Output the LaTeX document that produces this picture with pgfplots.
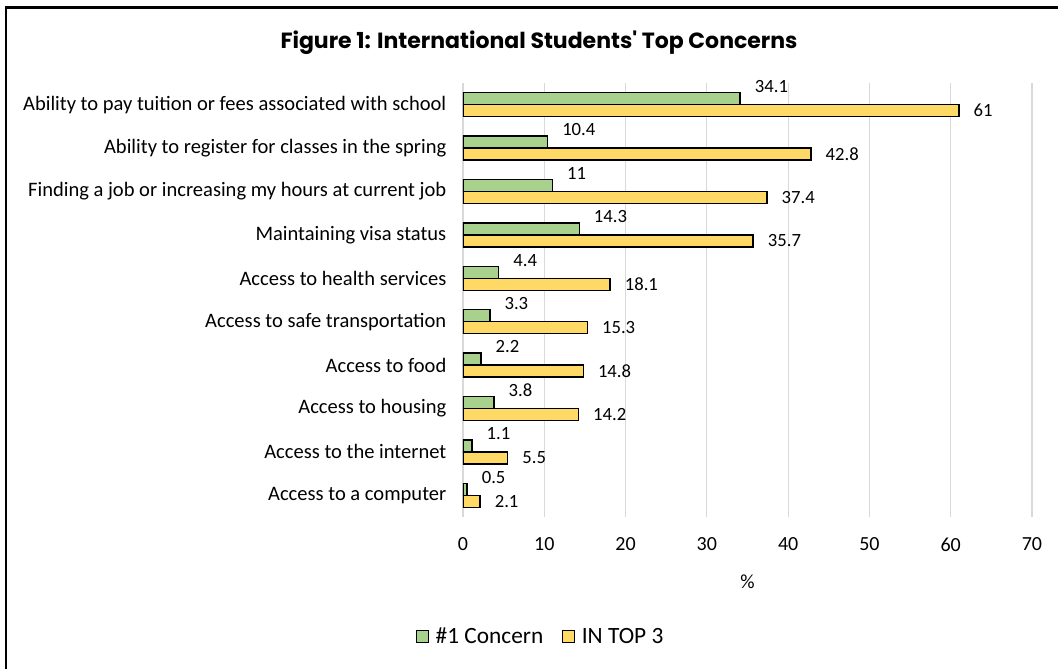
\documentclass[border=0pt]{standalone}
\usepackage{fontspec}
\setmainfont{Carlito}
\newfontfamily\titlefont{Poppins}
\usepackage{pgfplots}
\pgfplotsset{compat=1.18}
\definecolor{gfill}{HTML}{A9D18E}
\definecolor{yfill}{HTML}{FFD966}
\definecolor{gridc}{HTML}{D9D9D9}
\begin{document}
\begin{tikzpicture}[x=0.75pt,y=0.75pt]
\path[use as bounding box] (0,0) rectangle (1058,669);
\draw[line width=1.8pt,black] (6,0) -- (6,661.5) -- (1058,661.5);
\node[font=\titlefont\bfseries\fontsize{16.5}{19}\selectfont] at (539,626) {Figure 1: International Students' Top Concerns};
\begin{axis}[
  at={(347.25pt,114pt)}, anchor=south west,
  scale only axis, width=426.75pt, height=325.5pt,
  xmin=0, xmax=70, ymin=-0.5, ymax=9.5,
  xtick={0,10,...,70},
  ytick={0,...,9},
  yticklabels={Access to a computer,Access to the internet,Access to housing,Access to food,Access to safe transportation,Access to health services,Maintaining visa status,Finding a job or increasing my hours at current job,Ability to register for classes in the spring,Ability to pay tuition or fees associated with school},
  axis line style={draw=none},
  major tick length=0pt,
  xmajorgrids, grid style={gridc, line width=0.9pt},
  /pgf/number format/assume math mode=true,
  tick label style={font=\fontsize{15}{18}\selectfont, black},
  yticklabel style={font=\fontsize{15.4}{18}\selectfont, xshift=-9pt},
  xticklabel style={yshift=-12pt},
  xlabel={\%}, xlabel style={font=\fontsize{15}{18}\selectfont, yshift=-11pt},
  xbar, bar width=0.276,
  legend columns=2,
  legend style={at={(0.137,-0.276)}, anchor=center, draw=none, font=\fontsize{17.5}{20}\selectfont,
    /tikz/every odd column/.append style={column sep=3pt},
    /tikz/every even column/.append style={column sep=12pt}},
  legend image code/.code={\draw[#1, line width=0.9pt] (0pt,-4.5pt) rectangle (9pt,4.5pt);},
  nodes near coords,
  every node near coord/.append style={font=\fontsize{14}{16}\selectfont, black, inner sep=0pt},
]
\addplot[fill=gfill, draw=black, line width=1.1pt, bar shift=0.138,
  every node near coord/.append style={anchor=south west, xshift=10.5pt, yshift=4pt}]
  coordinates {(0.5,0) (1.1,1) (3.8,2) (2.2,3) (3.3,4) (4.4,5) (14.3,6) (11,7) (10.4,8) (34.1,9)};
\addplot[fill=yfill, draw=black, line width=1.1pt, bar shift=-0.138,
  every node near coord/.append style={anchor=west, xshift=10.5pt}]
  coordinates {(2.1,0) (5.5,1) (14.2,2) (14.8,3) (15.3,4) (18.1,5) (35.7,6) (37.4,7) (42.8,8) (61,9)};
\legend{\#1 Concern, IN TOP 3}
\end{axis}
\end{tikzpicture}
\end{document}
